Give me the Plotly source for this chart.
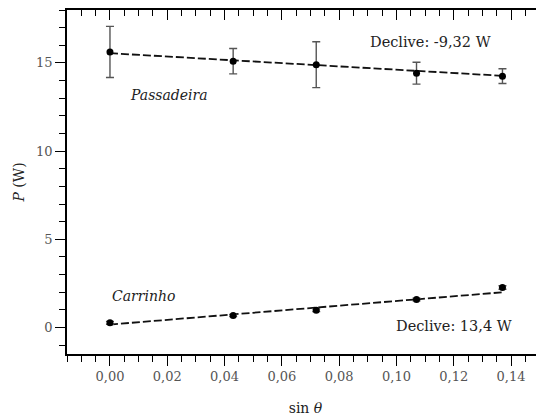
import plotly.graph_objects as go

# ---- data ----
sin_theta = [0.0, 0.043, 0.072, 0.107, 0.137]

passadeira_P = [15.62, 15.10, 14.90, 14.42, 14.25]
passadeira_err = [1.45, 0.72, 1.30, 0.62, 0.42]

carrinho_P = [0.27, 0.68, 0.98, 1.59, 2.27]
carrinho_err = [0.08, 0.06, 0.08, 0.08, 0.10]

fit_x = [0.0, 0.137]
fit_passadeira = [15.55, 14.27]
fit_carrinho = [0.17, 2.00]

x_range = [-0.015, 0.1515]
y_range = [-1.5, 18]

FONT = "DejaVu Serif"
ERR_COLOR = "#555555"

fig = go.Figure()

# fit lines
for fy in (fit_passadeira, fit_carrinho):
    fig.add_trace(go.Scatter(
        x=fit_x, y=fy, mode="lines",
        line=dict(color="#111111", width=1.8, dash="8px,3px"),
        hoverinfo="skip", showlegend=False))

# data points with error bars
for py, pe in ((passadeira_P, passadeira_err), (carrinho_P, carrinho_err)):
    fig.add_trace(go.Scatter(
        x=sin_theta, y=py, mode="markers",
        marker=dict(color="black", size=7),
        error_y=dict(type="data", array=pe, visible=True,
                     color=ERR_COLOR, thickness=1.4, width=4),
        showlegend=False))

# invisible trace to activate the mirror axes (top and right)
fig.add_trace(go.Scatter(x=sin_theta, y=carrinho_P, xaxis="x2", yaxis="y2",
                         mode="markers", marker=dict(opacity=0),
                         hoverinfo="skip", showlegend=False))

tickfont = dict(family=FONT, size=13, color="#555555")
titlefont = dict(family=FONT, size=14, color="#222222")

# the page body adds an 8px margin; the figure is sized to fill the rest
fig.update_layout(
    width=536, height=408,
    margin=dict(l=59, r=0, t=2, b=62),
    paper_bgcolor="white", plot_bgcolor="white",
    separators=", ",
    font=dict(family=FONT, size=13, color="#222222"),
    xaxis=dict(
        range=x_range, dtick=0.02, tick0=0, tickformat=".2f",
        showgrid=False, zeroline=False,
        showline=True, linecolor="black", linewidth=1.5,
        ticks="outside", ticklen=10, tickwidth=1.2, tickcolor="black",
        minor=dict(dtick=0.005, tick0=0, ticks="outside", ticklen=6,
                   tickwidth=1.2, tickcolor="black", showgrid=False),
        tickfont=tickfont,
        title=dict(text="sin <i>θ</i>", font=titlefont, standoff=20),
    ),
    yaxis=dict(
        range=y_range, dtick=5, tick0=0,
        showgrid=False, zeroline=False,
        showline=True, linecolor="black", linewidth=1.5,
        ticks="outside", ticklen=10, tickwidth=1.2, tickcolor="black",
        minor=dict(dtick=1, tick0=0, ticks="outside", ticklen=6,
                   tickwidth=1.2, tickcolor="black", showgrid=False),
        tickfont=tickfont,
        title=dict(text="<i>P</i> (W)", font=titlefont, standoff=8),
    ),
    xaxis2=dict(
        overlaying="x", side="top", matches="x", anchor="y2",
        showgrid=False, zeroline=False, showticklabels=False,
        showline=True, linecolor="black", linewidth=1.5,
        dtick=0.02, tick0=0,
        ticks="inside", ticklen=10, tickwidth=1.2, tickcolor="black",
        minor=dict(dtick=0.005, tick0=0, ticks="inside", ticklen=6,
                   tickwidth=1.2, tickcolor="black", showgrid=False),
    ),
    yaxis2=dict(
        overlaying="y", side="right", matches="y", anchor="x2",
        showgrid=False, zeroline=False, showticklabels=False,
        showline=False, dtick=5, tick0=0,
        ticks="inside", ticklen=4, tickwidth=1.2, tickcolor="black",
    ),
)

annotations = [
    dict(x=0.112, y=16.18, text="Declive: -9,32 W", size=14.5),
    dict(x=0.0206, y=13.16, text="<i>Passadeira</i>", size=14),
    dict(x=0.0117, y=1.78, text="<i>Carrinho</i>", size=14),
    dict(x=0.120, y=0.11, text="Declive: 13,4 W", size=14.5),
]
for a in annotations:
    fig.add_annotation(x=a["x"], y=a["y"], xref="x", yref="y", text=a["text"],
                       showarrow=False, xanchor="center", yanchor="middle",
                       font=dict(family=FONT, size=a["size"], color="#222222"))

fig.write_html("out.html")
